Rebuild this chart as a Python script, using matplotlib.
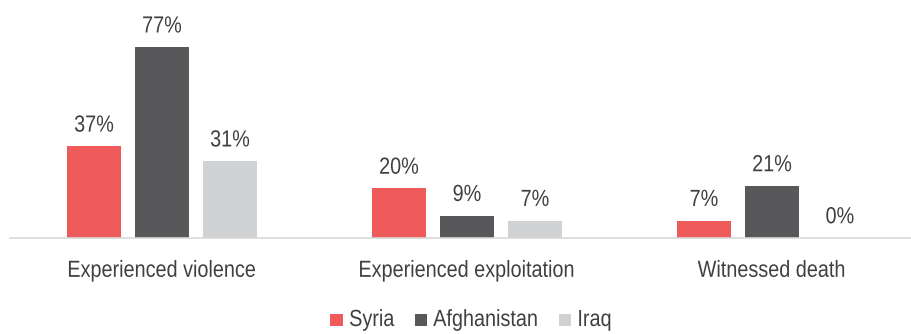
import matplotlib
matplotlib.use("Agg")
import matplotlib.pyplot as plt
import numpy as np
from matplotlib.patheffects import AbstractPathEffect
from matplotlib.transforms import Affine2D
from matplotlib.patches import Rectangle

categories = ["Experienced violence", "Experienced exploitation", "Witnessed death"]
series = ["Syria", "Afghanistan", "Iraq"]
syria = [37, 20, 7]
afghanistan = [77, 9, 21]
iraq = [31, 7, 0]
values = [syria, afghanistan, iraq]
colors = ["#EF5A5A", "#58585A", "#D1D2D4"]

plt.rcParams["font.family"] = ["Liberation Sans", "DejaVu Sans"]

SX = 0.85


class Narrow(AbstractPathEffect):
    """Horizontally condense glyphs (Arial Narrow look)."""
    def __init__(self, sx=SX, anchor="center"):
        super().__init__()
        self.sx = sx
        self.anchor = anchor

    def draw_path(self, renderer, gc, tpath, affine, rgbFace=None):
        ext = tpath.get_extents()
        cx = (ext.x0 + ext.x1) / 2 if self.anchor == "center" else ext.x0
        pre = Affine2D().translate(-cx, 0).scale(self.sx, 1).translate(cx, 0)
        renderer.draw_path(gc, tpath, pre + affine, rgbFace)


FS = 16.8
TXT = "#404040"

fig = plt.figure(figsize=(9.12, 3.34), dpi=100)
W, H = 912, 334
unit = 305.0
left_px = 162 - unit / 2
ax = fig.add_axes([left_px / W, (334 - 238) / H, 3 * unit / W, 223 / H])

x = np.arange(len(categories))
bw = 54 / unit
step = 68 / unit
for i, (s, v, c) in enumerate(zip(series, values, colors)):
    pos = x + (i - 1) * step
    bars = ax.bar(pos, v, width=bw, color=c, label=s, zorder=2)
    for b, val in zip(bars, v):
        ax.annotate(f"{val}%", (b.get_x() + b.get_width() / 2, val),
                    xytext=(0, 7), textcoords="offset points",
                    ha="center", va="bottom", fontsize=FS, color=TXT,
                    path_effects=[Narrow()])

ax.set_xlim(-0.5, 2.5)
ax.set_ylim(0, 90)
ax.set_yticks([])
ax.set_xticks(x)
ax.set_xticklabels(categories, fontsize=FS, color=TXT)
for t in ax.get_xticklabels():
    t.set_path_effects([Narrow()])
ax.tick_params(axis="x", length=0, pad=15)
for sp in ["top", "right", "left"]:
    ax.spines[sp].set_visible(False)
ax.spines["bottom"].set_color("#D9D9D9")
ax.spines["bottom"].set_linewidth(1.2)

# Legend (manual, so condensed text spacing is right)
fig.canvas.draw()
renderer = fig.canvas.get_renderer()
sq = 12.5
gap_sq_txt = 6
gap_item = 20
ycen = 320
items = []
total = 0
for s in series:
    t = fig.text(0, 0, s, fontsize=FS, color=TXT, va="center", ha="left",
                 path_effects=[Narrow(anchor="left")])
    w = t.get_window_extent(renderer).width * SX
    items.append((t, w))
    total += sq + gap_sq_txt + w
total += gap_item * (len(series) - 1)
xcur = 471 - total / 2
for (t, w), c in zip(items, colors):
    fig.patches.append(Rectangle((xcur / W, (H - ycen - sq / 2) / H), sq / W, sq / H,
                                 transform=fig.transFigure, facecolor=c, edgecolor="none"))
    xcur += sq + gap_sq_txt
    t.set_position((xcur / W, (H - ycen + 0.5) / H))
    xcur += w + gap_item

fig.savefig("out.png", dpi=100)
